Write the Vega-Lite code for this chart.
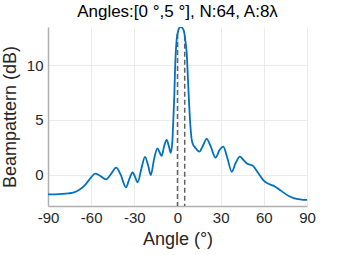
{
  "$schema": "https://vega.github.io/schema/vega-lite/v6.json",
  "autosize": {"type": "none"},
  "padding": {"left": 48, "top": 27, "right": 33, "bottom": 49},
  "width": 259,
  "height": 179,
  "background": "white",
  "title": {"text": "Angles:[0 °,5 °], N:64, A:8λ", "font": "Liberation Sans", "fontSize": 17, "fontWeight": "normal", "color": "#000000", "anchor": "middle", "offset": 6},
  "config": {
    "view": {"stroke": null},
    "axis": {"labelFont": "Liberation Sans", "titleFont": "Liberation Sans", "labelFontSize": 15, "titleFontSize": 18, "titleFontWeight": "normal", "labelColor": "#262626", "titleColor": "#262626", "gridColor": "#ebebeb", "gridWidth": 1, "domainColor": "#b0b0b0", "domainWidth": 1.5, "tickColor": "#b0b0b0", "tickSize": 0}
  },
  "datasets": {
    "bp": [
      {"angle": -90, "db": -1.8}, {"angle": -85, "db": -1.79}, {"angle": -80, "db": -1.76}, {"angle": -76, "db": -1.71},
      {"angle": -72, "db": -1.62}, {"angle": -68, "db": -1.35}, {"angle": -64, "db": -0.9}, {"angle": -60, "db": -0.25},
      {"angle": -57.3, "db": 0.09}, {"angle": -54, "db": -0.08}, {"angle": -49.7, "db": -0.42}, {"angle": -46, "db": 0.1},
      {"angle": -42.7, "db": 0.64}, {"angle": -39.5, "db": 0.0}, {"angle": -35.8, "db": -1.15}, {"angle": -33.5, "db": -0.4},
      {"angle": -31.2, "db": 0.2}, {"angle": -29.5, "db": -0.2}, {"angle": -27.7, "db": -0.7}, {"angle": -25, "db": 0.6},
      {"angle": -22.6, "db": 1.62}, {"angle": -20.5, "db": 0.9}, {"angle": -18.6, "db": -0.03}, {"angle": -16.3, "db": 1.4},
      {"angle": -14, "db": 2.41}, {"angle": -12.3, "db": 2.0}, {"angle": -11, "db": 1.71}, {"angle": -9.3, "db": 2.6},
      {"angle": -7.5, "db": 3.17}, {"angle": -6, "db": 2.6}, {"angle": -4.7, "db": 2.0}, {"angle": -3.6, "db": 3.0},
      {"angle": -2.9, "db": 5.0}, {"angle": -2.2, "db": 7.3}, {"angle": -1.7, "db": 9.6}, {"angle": -0.6, "db": 12.3},
      {"angle": 0.6, "db": 13.2}, {"angle": 1.5, "db": 13.45}, {"angle": 2.4, "db": 13.49}, {"angle": 3.4, "db": 13.4},
      {"angle": 4.5, "db": 13.1}, {"angle": 5.5, "db": 12.2}, {"angle": 6.4, "db": 11.1}, {"angle": 7.5, "db": 8.05},
      {"angle": 8.7, "db": 5.0}, {"angle": 9.9, "db": 3.17}, {"angle": 11, "db": 2.7}, {"angle": 12.2, "db": 2.5},
      {"angle": 13.7, "db": 2.25}, {"angle": 15.2, "db": 2.1}, {"angle": 17.5, "db": 2.6}, {"angle": 20.3, "db": 3.27},
      {"angle": 23, "db": 2.6}, {"angle": 26.5, "db": 1.56}, {"angle": 29, "db": 2.2}, {"angle": 31.8, "db": 2.56},
      {"angle": 34.5, "db": 1.6}, {"angle": 37.7, "db": 0.27}, {"angle": 40.5, "db": 1.1}, {"angle": 43.4, "db": 1.65},
      {"angle": 45.5, "db": 1.4}, {"angle": 48.1, "db": 1.04}, {"angle": 52.7, "db": 0.78}, {"angle": 56.2, "db": 0.13},
      {"angle": 60.8, "db": -0.64}, {"angle": 63.5, "db": -0.85}, {"angle": 66.6, "db": -1.0}, {"angle": 71.2, "db": -1.4},
      {"angle": 77, "db": -1.92}, {"angle": 82.8, "db": -2.22}, {"angle": 86, "db": -2.27}, {"angle": 90, "db": -2.3}
    ],
    "marks": [
      {"angle": 0, "top": 12.85},
      {"angle": 5, "top": 12.7}
    ]
  },
  "layer": [
    {
      "data": {"name": "marks"},
      "mark": {"type": "rule", "color": "#606060", "strokeWidth": 1.5, "strokeDash": [5, 3]},
      "encoding": {
        "x": {"field": "angle", "type": "quantitative"},
        "y": {"field": "top", "type": "quantitative"},
        "y2": {"datum": -2.86}
      }
    },
    {
      "data": {"name": "bp"},
      "mark": {"type": "line", "color": "#0072BD", "strokeWidth": 1.8, "interpolate": "monotone", "clip": true},
      "encoding": {
        "x": {"field": "angle", "type": "quantitative", "scale": {"domain": [-90, 90], "nice": false, "zero": false},
              "axis": {"values": [-90, -60, -30, 0, 30, 60, 90], "labelExpr": "'' + datum.value", "title": "Angle (°)", "labelPadding": 4, "titlePadding": 5, "labelFlush": false}},
        "y": {"field": "db", "type": "quantitative", "scale": {"domain": [-2.86, 13.49], "nice": false, "zero": false},
              "axis": {"values": [0, 5, 10], "title": "Beampattern (dB)", "labelPadding": 5, "titlePadding": 7}}
      }
    }
  ]
}
